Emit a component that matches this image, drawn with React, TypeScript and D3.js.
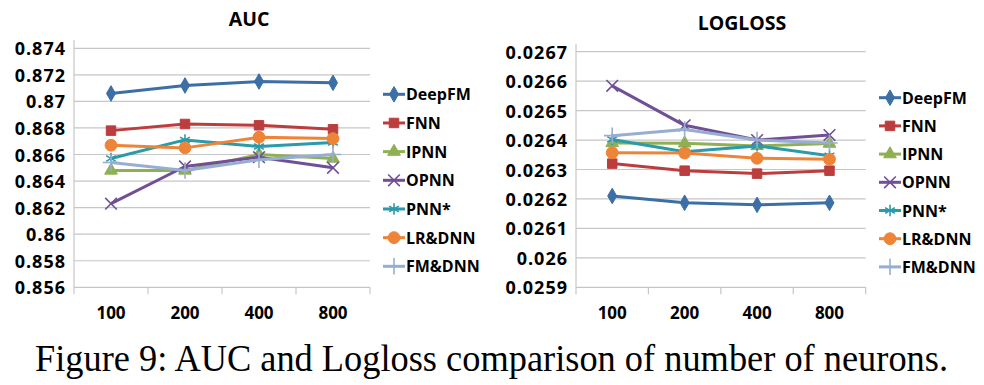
import React from "react";
import * as d3 from "d3";

const neurons = ["100", "200", "400", "800"];
const models = ["DeepFM", "FNN", "IPNN", "OPNN", "PNN*", "LR&DNN", "FM&DNN"];

// AUC per model, in neurons order
const aucDeepFM = [0.8706, 0.8712, 0.8715, 0.8714];
const aucFNN = [0.8678, 0.8683, 0.8682, 0.8679];
const aucIPNN = [0.8648, 0.8648, 0.866, 0.8657];
const aucOPNN = [0.8623, 0.8651, 0.8658, 0.865];
const aucPNNstar = [0.8657, 0.8671, 0.8666, 0.8669];
const aucLRDNN = [0.8667, 0.8665, 0.8673, 0.8672];
const aucFMDNN = [0.8654, 0.8648, 0.8656, 0.866];

// Logloss per model
const llDeepFM = [0.02621, 0.026187, 0.02618, 0.026187];
const llFNN = [0.02632, 0.026296, 0.026286, 0.026296];
const llIPNN = [0.02639, 0.026389, 0.02638, 0.026388];
const llOPNN = [0.026584, 0.02645, 0.0264, 0.026417];
const llPNNstar = [0.026402, 0.02636, 0.02638, 0.026347];
const llLRDNN = [0.026357, 0.026356, 0.026338, 0.026335];
const llFMDNN = [0.026415, 0.026436, 0.0264, 0.02639];

const aucTicks = [0.856, 0.858, 0.86, 0.862, 0.864, 0.866, 0.868, 0.87, 0.872, 0.874];
const llTicks = [0.0259, 0.026, 0.0261, 0.0262, 0.0263, 0.0264, 0.0265, 0.0266, 0.0267];

const colors = ["#3b6fa6", "#bc3d3e", "#8fb052", "#714f97", "#2b9aa9", "#ee8437", "#97aed2"];
const shapes = [
  { type: d3.symbolDiamond, size: 70, fill: true },
  { type: d3.symbolSquare, size: 90, fill: true },
  { type: d3.symbolTriangle, size: 70, fill: true },
  { type: d3.symbolX, size: 90, fill: false },
  { type: d3.symbolAsterisk, size: 90, fill: false },
  { type: d3.symbolCircle, size: 110, fill: true },
  { type: d3.symbolPlus, size: 90, fill: false },
];

const font = "'Open Sans', sans-serif";

const Marker = ({ i, x, y }) => {
  const s = shapes[i];
  const d = d3.symbol().type(s.type).size(s.size)();
  return (
    <path
      d={d}
      transform={`translate(${x},${y})`}
      fill={s.fill ? colors[i] : "none"}
      stroke={colors[i]}
      strokeWidth={s.fill ? 1 : 1.6}
    />
  );
};

const Panel = ({ title, series, ticks, fmt, box, titlePos, legend }) => {
  const x = d3.scaleBand().domain(neurons).range([box.left, box.right]);
  const y = d3
    .scaleLinear()
    .domain([ticks[0], ticks[ticks.length - 1]])
    .range([box.bottom, box.top]);
  const line = d3
    .line<number>()
    .x((_, i) => x(neurons[i]) + x.bandwidth() / 2)
    .y((v) => y(v));
  const edges = [...neurons.map((n) => x(n)), box.right];

  return (
    <g>
      <text
        x={titlePos[0]}
        y={titlePos[1]}
        textAnchor="middle"
        dominantBaseline="central"
        fontFamily={font}
        fontWeight="bold"
        fontSize={19.5}
      >
        {title}
      </text>
      {ticks.map((t) => (
        <g key={t}>
          <line x1={box.left} x2={box.right} y1={y(t)} y2={y(t)} stroke="#c6c6c6" strokeWidth={1.2} />
          <text
            x={box.left - 8}
            y={y(t)}
            textAnchor="end"
            dominantBaseline="central"
            fontFamily={font}
            fontWeight="bold"
            fontSize={18}
            letterSpacing={1}
          >
            {fmt(t)}
          </text>
        </g>
      ))}
      <line x1={box.left} x2={box.left} y1={box.top - 8} y2={box.bottom} stroke="#c6c6c6" strokeWidth={1.2} />
      {edges.map((e, i) => (
        <line key={i} x1={e} x2={e} y1={box.bottom} y2={box.bottom + 7} stroke="#c6c6c6" strokeWidth={1.2} />
      ))}
      {neurons.map((n) => (
        <text
          key={n}
          x={x(n) + x.bandwidth() / 2}
          y={box.bottom + 25}
          textAnchor="middle"
          dominantBaseline="central"
          fontFamily={font}
          fontWeight="bold"
          fontSize={17}
        >
          {n}
        </text>
      ))}
      {series.map((vals, i) => (
        <g key={models[i]}>
          <path d={line(vals)} fill="none" stroke={colors[i]} strokeWidth={3} strokeLinejoin="round" />
          {vals.map((v, j) => (
            <Marker key={j} i={i} x={x(neurons[j]) + x.bandwidth() / 2} y={y(v)} />
          ))}
        </g>
      ))}
      {models.map((m, i) => {
        const ly = legend.top + i * legend.step;
        return (
          <g key={m}>
            <line x1={legend.x} x2={legend.x + 22} y1={ly} y2={ly} stroke={colors[i]} strokeWidth={3} />
            <Marker i={i} x={legend.x + 11} y={ly} />
            <text
              x={legend.x + 23}
              y={ly}
              dominantBaseline="central"
              fontFamily={font}
              fontWeight="bold"
              fontSize={16}
            >
              {m}
            </text>
          </g>
        );
      })}
    </g>
  );
};

export default function App() {
  return (
    <svg width={984} height={385} style={{ position: "absolute", left: 0, top: 0, background: "#fff" }}>
      <Panel
        title="AUC"
        series={[aucDeepFM, aucFNN, aucIPNN, aucOPNN, aucPNNstar, aucLRDNN, aucFMDNN]}
        ticks={aucTicks}
        fmt={d3.format(".3~f")}
        box={{ left: 74, right: 370, top: 48.3, bottom: 287.3 }}
        titlePos={[249, 18]}
        legend={{ x: 383, top: 94.3, step: 28.67 }}
      />
      <Panel
        title="LOGLOSS"
        series={[llDeepFM, llFNN, llIPNN, llOPNN, llPNNstar, llLRDNN, llFMDNN]}
        ticks={llTicks}
        fmt={d3.format(".4~f")}
        box={{ left: 576, right: 865.7, top: 51.7, bottom: 287.3 }}
        titlePos={[742, 22]}
        legend={{ x: 879, top: 97.7, step: 28.2 }}
      />
      <text
        x={35}
        y={371}
        fontFamily="'Liberation Serif', serif"
        fontSize={37}
        textLength={913}
        lengthAdjust="spacingAndGlyphs"
      >
        Figure 9: AUC and Logloss comparison of number of neurons.
      </text>
    </svg>
  );
}
